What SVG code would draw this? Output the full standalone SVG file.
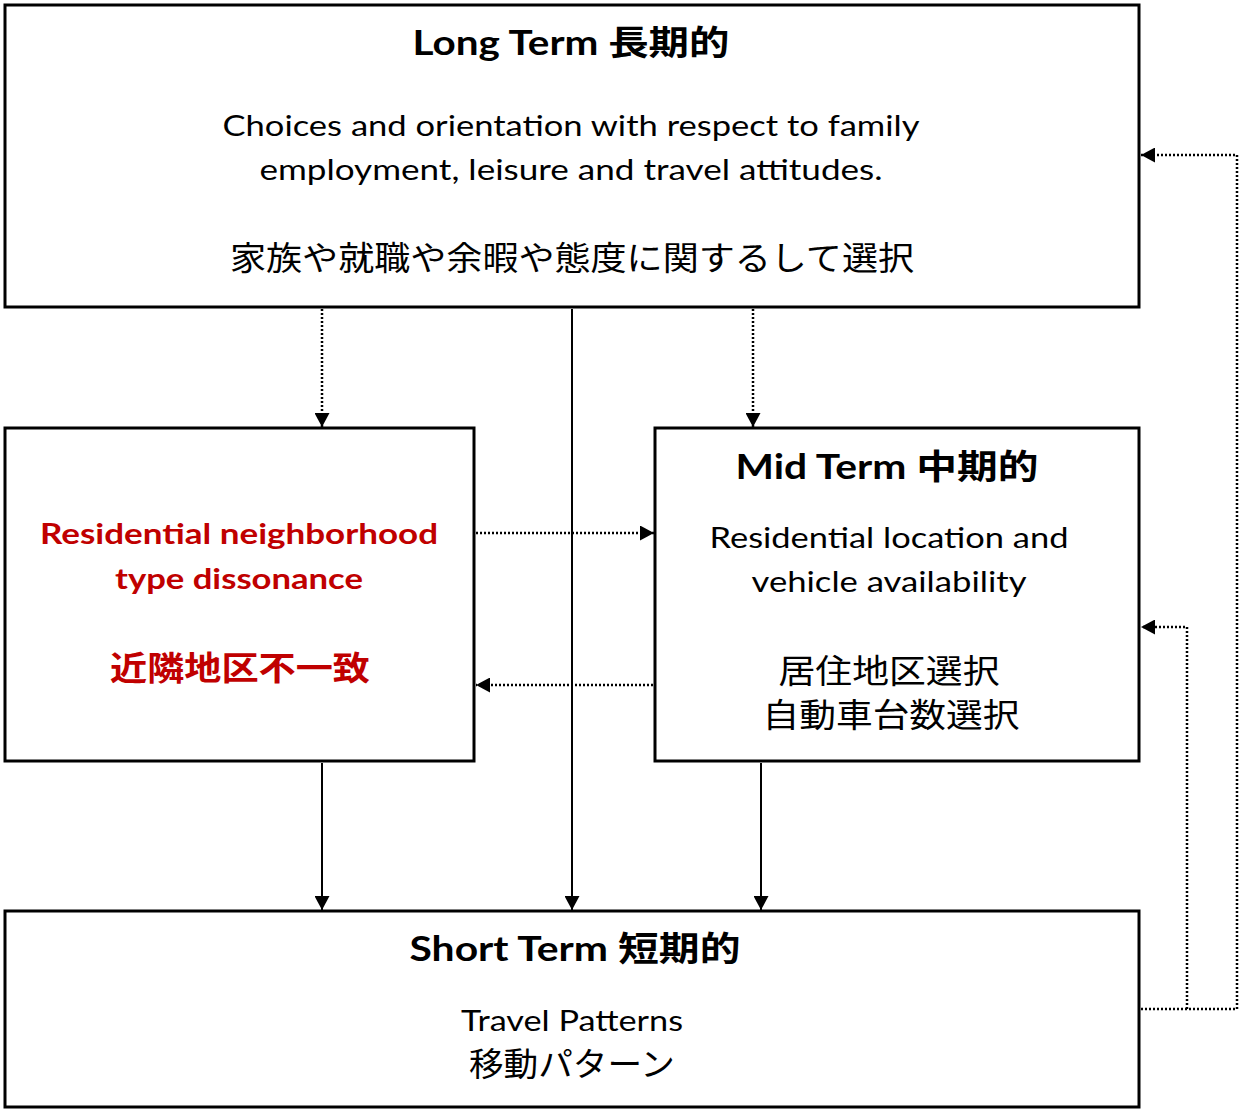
<svg xmlns="http://www.w3.org/2000/svg" width="1240" height="1110" viewBox="0 0 1240 1110">
  <defs>
    <marker id="arrow" viewBox="0 0 14 15" refX="14" refY="7.5" markerWidth="14" markerHeight="15" markerUnits="userSpaceOnUse" orient="auto">
      <path d="M0,0 L14,7.5 L0,15 Z" fill="#000"/>
    </marker>
  </defs>
  <style>
    .box { fill: #fff; stroke: #000; stroke-width: 3; }
    .title { font-family: Lato, "Noto Sans CJK JP", sans-serif; font-weight: bold; font-size: 34px; text-anchor: middle; fill: #000; }
    .body { font-family: Lato, "Noto Sans CJK JP", sans-serif; font-size: 29px; text-anchor: middle; fill: #000; }
    .jp { font-family: "Noto Sans CJK JP", sans-serif; font-size: 33px; text-anchor: middle; fill: #000; }
    .red { fill: #c00000; font-weight: bold; }
    .solid { fill: none; stroke: #000; stroke-width: 2; }
    .dotted { fill: none; stroke: #000; stroke-width: 2.5; stroke-dasharray: 2 2; }
  </style>
  <rect width="1240" height="1110" fill="#fff"/>

  <g id="long-term">
    <rect class="box" x="5" y="5" width="1134" height="302"/>
    <text class="title" x="571" y="55" textLength="317" lengthAdjust="spacingAndGlyphs">Long Term 長期的</text>
    <text class="body" x="571" y="136" textLength="697" lengthAdjust="spacingAndGlyphs">Choices and orientation with respect to family</text>
    <text class="body" x="571" y="180" textLength="623" lengthAdjust="spacingAndGlyphs">employment, leisure and travel attitudes.</text>
    <text class="jp" x="572" y="270" textLength="684" lengthAdjust="spacingAndGlyphs">家族や就職や余暇や態度に関するして選択</text>
  </g>

  <g id="dissonance">
    <rect class="box" x="5" y="428" width="469" height="333"/>
    <text class="body red" x="239" y="544" textLength="398" lengthAdjust="spacingAndGlyphs">Residential neighborhood</text>
    <text class="body red" x="239" y="589" textLength="248" lengthAdjust="spacingAndGlyphs">type dissonance</text>
    <text class="jp red" x="240" y="680" textLength="260" lengthAdjust="spacingAndGlyphs">近隣地区不一致</text>
  </g>

  <g id="mid-term">
    <rect class="box" x="655" y="428" width="484" height="333"/>
    <text class="title" x="887" y="479" textLength="303" lengthAdjust="spacingAndGlyphs">Mid Term 中期的</text>
    <text class="body" x="889" y="548" textLength="359" lengthAdjust="spacingAndGlyphs">Residential location and</text>
    <text class="body" x="889" y="592" textLength="275" lengthAdjust="spacingAndGlyphs">vehicle availability</text>
    <text class="jp" x="889" y="683" textLength="221" lengthAdjust="spacingAndGlyphs">居住地区選択</text>
    <text class="jp" x="891" y="727" textLength="257" lengthAdjust="spacingAndGlyphs">自動車台数選択</text>
  </g>

  <g id="short-term">
    <rect class="box" x="5" y="911" width="1134" height="196"/>
    <text class="title" x="575" y="961" textLength="331" lengthAdjust="spacingAndGlyphs">Short Term 短期的</text>
    <text class="body" x="572" y="1031" textLength="222" lengthAdjust="spacingAndGlyphs">Travel Patterns</text>
    <text class="jp" x="572" y="1076" textLength="206" lengthAdjust="spacingAndGlyphs">移動パターン</text>
  </g>

  <g id="connectors">
    <!-- long term down to the two middle boxes -->
    <line class="dotted" x1="322" y1="309" x2="322" y2="427" marker-end="url(#arrow)"/>
    <line class="dotted" x1="753" y1="309" x2="753" y2="427" marker-end="url(#arrow)"/>
    <line class="solid" x1="572" y1="309" x2="572" y2="910" marker-end="url(#arrow)"/>
    <!-- between dissonance and mid term -->
    <line class="dotted" x1="476" y1="533" x2="654" y2="533" marker-end="url(#arrow)"/>
    <line class="dotted" x1="653" y1="685" x2="476" y2="685" marker-end="url(#arrow)"/>
    <!-- middle boxes down to short term -->
    <line class="solid" x1="322" y1="763" x2="322" y2="910" marker-end="url(#arrow)"/>
    <line class="solid" x1="761" y1="763" x2="761" y2="910" marker-end="url(#arrow)"/>
    <!-- feedback loops from short term -->
    <polyline class="dotted" points="1141,1009 1237,1009 1237,155 1141,155" marker-end="url(#arrow)"/>
    <polyline class="dotted" points="1187,1009 1187,627 1141,627" marker-end="url(#arrow)"/>
  </g>
</svg>
